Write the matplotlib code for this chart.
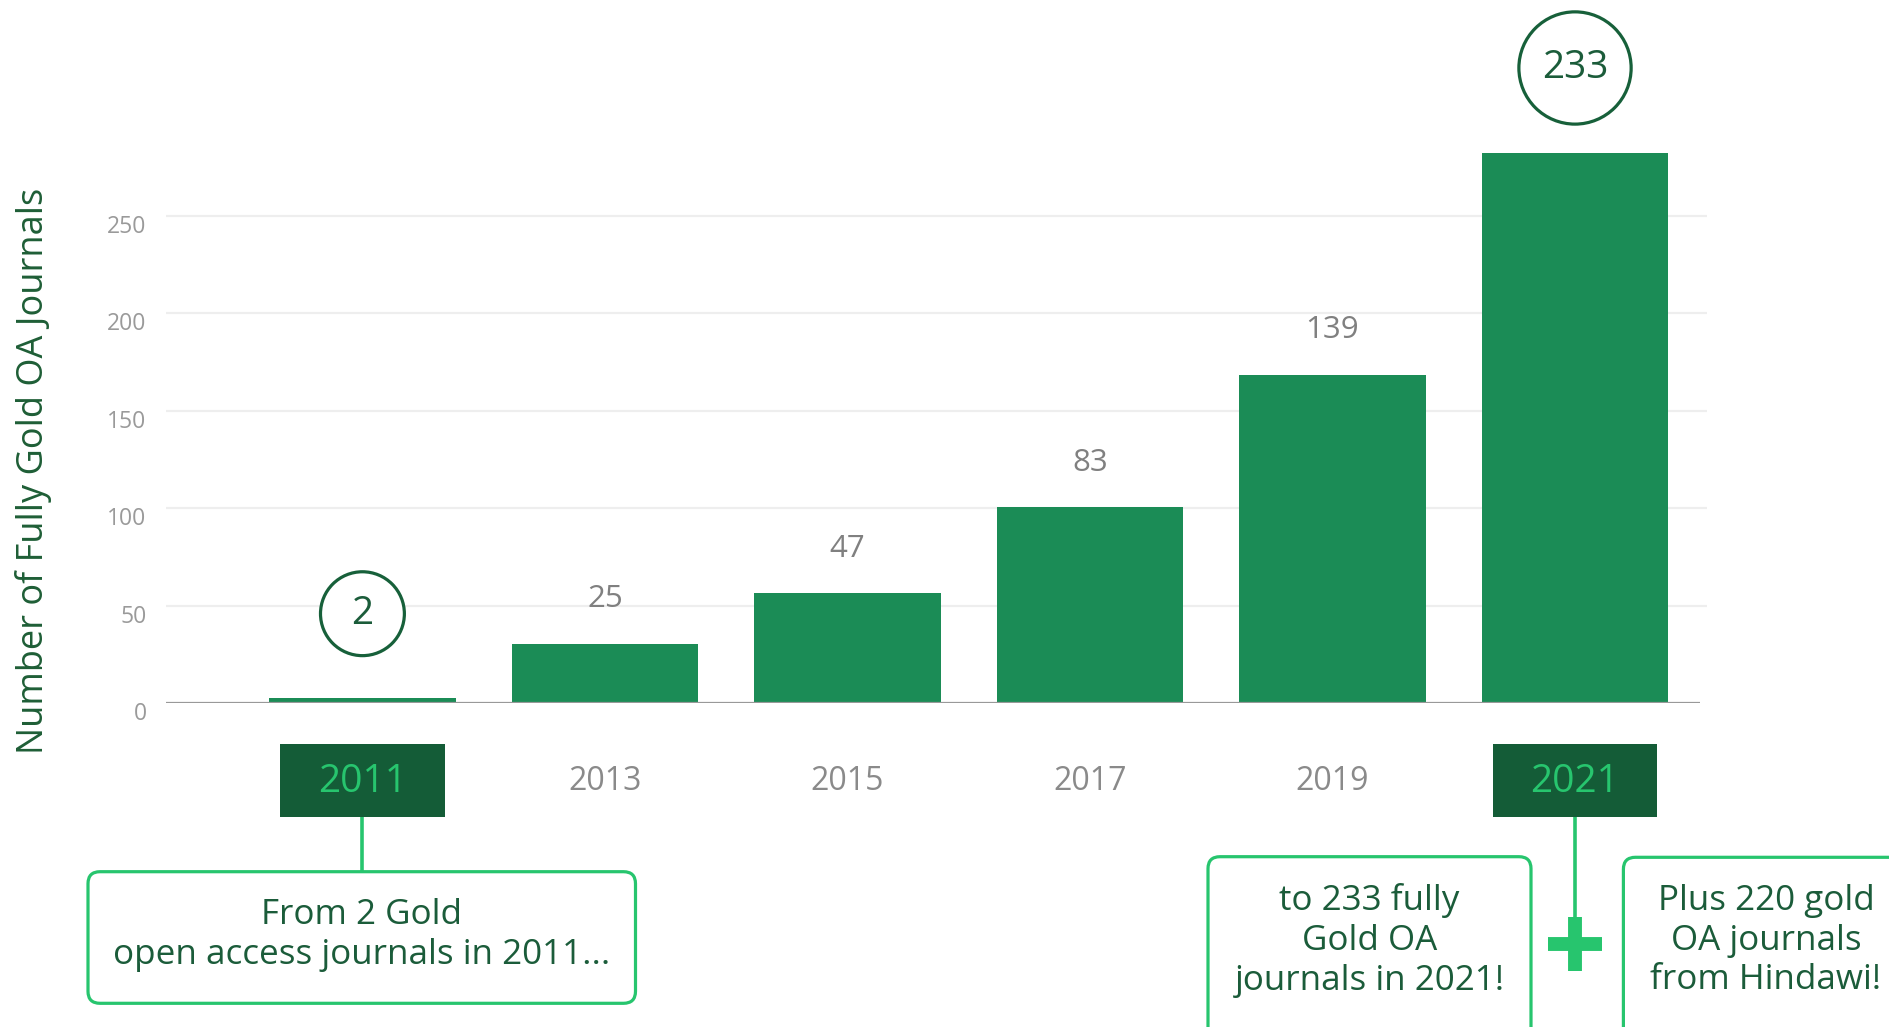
import matplotlib
matplotlib.use("Agg")
import matplotlib.pyplot as plt
from matplotlib.patches import FancyBboxPatch, Rectangle
from matplotlib import transforms

years = ["2011", "2013", "2015", "2017", "2019", "2021"]
bar_heights = [2.5, 30.5, 56.5, 100.5, 168.5, 282.5]
value_labels = ["2", "25", "47", "83", "139", "233"]
circled = [0, 5]
yticks = [0, 50, 100, 150, 200, 250]
ylabel = "Number of Fully Gold OA Journals"
note_left = "From 2 Gold\nopen access journals in 2011..."
note_mid = "to 233 fully\nGold OA\njournals in 2021!"
note_right = "Plus 220 gold\nOA journals\nfrom Hindawi!"

plt.rcParams['font.family'] = ['Open Sans', 'DejaVu Sans']

BAR = '#1b8c56'
DARK = '#145c37'
BRIGHT = '#27c56e'
TXT = '#1b5c3a'
GRAY = '#8a8a8a'

W, H = 1890, 1027
fig = plt.figure(figsize=(W / 100, H / 100), dpi=100)
ax = fig.add_axes([166 / W, 1 - 703.3 / H, (1706.7 - 166) / W, (703.3 - 118.6) / H])
ov = fig.add_axes([0, 0, 1, 1])
ov.set_xlim(0, W)
ov.set_ylim(H, 0)
ov.axis('off')

x = list(range(len(years)))
x0, x1 = -0.81, 5.543
ax.set_xlim(x0, x1)
ax.set_ylim(0, 300)
for s in ax.spines.values():
    s.set_visible(False)
ax.hlines(yticks[1:], x0, x1, color='#eeeeee', lw=1.6, zorder=0)
ax.hlines(0, x0, 5.514, color='#999999', lw=1.6, zorder=3)
ax.bar(x, bar_heights, width=0.768, color=BAR, zorder=2)

# y ticks
ax.set_yticks(yticks)
ax.tick_params(axis='y', length=0, pad=14, labelsize=16.5, labelcolor='#9a9a9a')
off = transforms.ScaledTranslation(0, -8 / 100, fig.dpi_scale_trans)
for lbl in ax.get_yticklabels():
    lbl.set_transform(lbl.get_transform() + off)

# x ticks
ax.set_xticks(x, years)
ax.tick_params(axis='x', length=0, pad=56.5, labelsize=23, labelcolor=GRAY)
for i, lbl in enumerate(ax.get_xticklabels()):
    lbl.set_va('center')
    if i in circled:
        lbl.set_color(BRIGHT)
        lbl.set_fontsize(28)

trans = transforms.blended_transform_factory(ax.transData, ov.transData)
bw = 164.7 / 242.5
for i in circled:
    ax.add_patch(Rectangle((x[i] - bw / 2, 744.3), bw, 72.4, transform=trans,
                           facecolor=DARK, edgecolor='none', clip_on=False, zorder=1))

# value labels
for i, (h, lab) in enumerate(zip(bar_heights, value_labels)):
    if i in circled:
        ax.annotate(lab, (x[i], h), xytext=(0, 61), textcoords='offset points',
                    ha='center', va='center', fontsize=28, color=TXT,
                    bbox=dict(boxstyle='circle,pad=0.59', fc='white', ec='#17603a', lw=2.3),
                    annotation_clip=False)
    else:
        ax.annotate(lab, (x[i], h), xytext=(0, 32), textcoords='offset points',
                    ha='center', va='center', fontsize=22.5, color='#808080',
                    annotation_clip=False)

# connectors
ax.plot([x[0], x[0]], [816.7, 871.7], transform=trans, color=BRIGHT, lw=2.6,
        clip_on=False, solid_capstyle='butt')
ax.plot([x[5], x[5]], [816.7, 920], transform=trans, color=BRIGHT, lw=2.6,
        clip_on=False, solid_capstyle='butt')
ax.plot([x[5]], [943.5], transform=trans, marker='+', ms=39.5, mew=10,
        color=BRIGHT, clip_on=False, linestyle='none')

# note boxes
def note_box(xl, yt, w, h):
    ov.add_patch(FancyBboxPatch((xl, yt), w, h, boxstyle='round,pad=0,rounding_size=12',
                                facecolor='white', edgecolor=BRIGHT, lw=2.3, clip_on=False))

note_box(88, 871.7, 547.5, 131.6)
note_box(1208, 856.7, 323, 220)
note_box(1623.4, 857.3, 320, 220)
ov.text(361.5, 935, note_left, ha='center', va='center', fontsize=25.2, color=TXT,
        linespacing=1.25)
ov.text(1369.5, 940.5, note_mid, ha='center', va='center', fontsize=25.2, color=TXT,
        linespacing=1.23)
ov.text(1766, 940.5, note_right, ha='center', va='center', fontsize=25.2, color=TXT,
        linespacing=1.23)

fig.text(33.7 / W, 1 - 471 / H, ylabel, rotation=90, ha='center', va='center',
         fontsize=26, color='#1e5e36')

fig.savefig('out.png', dpi=100)
